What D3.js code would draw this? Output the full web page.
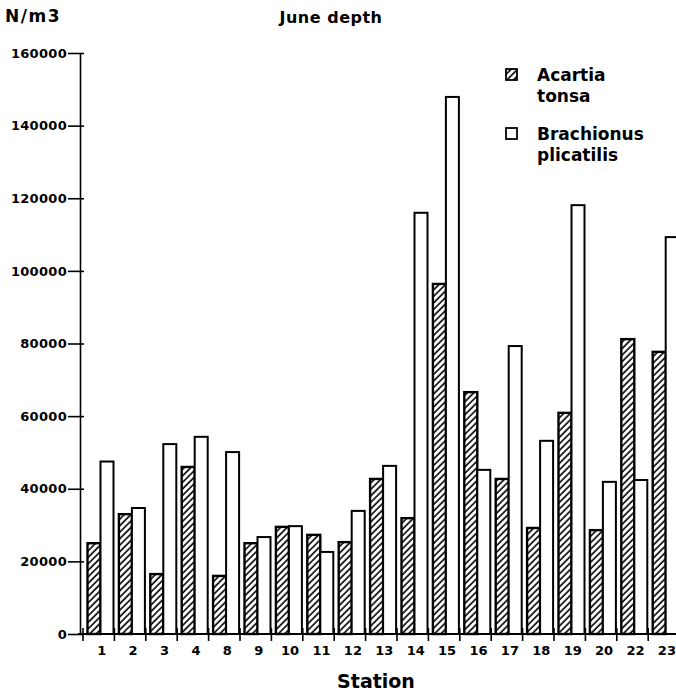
<!DOCTYPE html>
<html><head><meta charset="utf-8">
<script src="https://cdn.jsdelivr.net/npm/d3@7"></script>
<style>body{margin:0;background:#fff}svg{display:block}text{font-family:"DejaVu Sans",sans-serif;font-weight:bold;fill:#000}</style>
</head><body>
<script>
const stations = ["1","2","3","4","8","9","10","11","12","13","14","15","16","17","18","19","20","22","23"];
const acartia = [25000,33000,16500,46000,16000,25000,29500,27300,25300,42700,31900,96400,66600,42700,29200,60900,28600,81200,77700];
const brachionus = [47500,34700,52300,54300,50100,26700,29700,22600,33900,46300,116000,147900,45200,79300,53200,118100,41900,42400,109300];
const yTicks = [0,20000,40000,60000,80000,100000,120000,140000,160000];
const seriesNames = ["Acartia tonsa","Brachionus plicatilis"];

const W=676,H=693;
const svg=d3.select("body").append("svg").attr("width",W).attr("height",H);
const defs=svg.append("defs");
const pat=defs.append("pattern").attr("id","hatch").attr("patternUnits","userSpaceOnUse")
  .attr("width",4.6).attr("height",4.6).attr("patternTransform","rotate(45)");
pat.append("rect").attr("width",4.6).attr("height",4.6).attr("fill","#fff");
pat.append("line").attr("x1",1).attr("y1",0).attr("x2",1).attr("y2",4.6).attr("stroke","#000").attr("stroke-width",1.6);

const y=d3.scaleLinear().domain([0,160000]).range([634,53]);
const x=d3.scaleBand().domain(stations).range([83,83+19*31.4]).paddingInner(0);
const xs=d3.scaleBand().domain(["a","b"]).range([4.5,30.5]);

// bars
const g=svg.append("g");
stations.forEach((s,i)=>{
  const x0=x(s);
  g.append("rect").attr("x",x0+xs("a")).attr("width",xs.bandwidth()).attr("y",y(acartia[i])).attr("height",y(0)-y(acartia[i]))
   .attr("fill","url(#hatch)").attr("stroke","#000").attr("stroke-width",2.4);
  g.append("rect").attr("x",x0+xs("b")).attr("width",xs.bandwidth()).attr("y",y(brachionus[i])).attr("height",y(0)-y(brachionus[i]))
   .attr("fill","#fff").attr("stroke","#000").attr("stroke-width",2);
});

// y axis
const ya=svg.append("g").attr("transform","translate(80,0)")
  .call(d3.axisLeft(y).tickValues(yTicks).tickFormat(d3.format("d")).tickSizeInner(10).tickSizeOuter(0));
ya.select(".domain").attr("stroke","#000").attr("stroke-width",1.6);
ya.selectAll(".tick line").attr("stroke","#000").attr("stroke-width",1.6).attr("x2",4).attr("x1",-12);
ya.selectAll(".tick text").attr("x",-13).attr("font-size",13).attr("letter-spacing",0.3).attr("font-family","DejaVu Sans").attr("font-weight","bold").attr("fill","#000");

// x axis
svg.append("line").attr("x1",78).attr("x2",676).attr("y1",634).attr("y2",634).attr("stroke","#000").attr("stroke-width",2);
const xa=svg.append("g").attr("transform","translate(0,634)")
  .call(d3.axisBottom(x).tickSize(0).tickPadding(12));
xa.select(".domain").remove();
xa.selectAll(".tick text").attr("font-size",13).attr("font-family","DejaVu Sans").attr("font-weight","bold").attr("fill","#000").attr("dx",3);
stations.forEach(s=>{
  svg.append("line").attr("x1",x(s)).attr("x2",x(s)).attr("y1",628).attr("y2",641).attr("stroke","#000").attr("stroke-width",1.6);
});

// titles
svg.append("text").attr("x",5).attr("y",22).attr("font-size",17).attr("letter-spacing",1.5).text("N/m3");
svg.append("text").attr("x",331).attr("y",23).attr("text-anchor","middle").attr("font-size",16).attr("letter-spacing",0.5).text("June depth");
svg.append("text").attr("x",376).attr("y",688).attr("text-anchor","middle").attr("font-size",19).text("Station");

// legend
const leg=svg.append("g");
leg.append("rect").attr("x",506).attr("y",69).attr("width",11).attr("height",11).attr("fill","url(#hatch)").attr("stroke","#000").attr("stroke-width",1.8);
leg.append("rect").attr("x",506).attr("y",128).attr("width",11).attr("height",11).attr("fill","#fff").attr("stroke","#000").attr("stroke-width",1.8);
leg.append("text").attr("x",537).attr("y",81).attr("font-size",17).text("Acartia");
leg.append("text").attr("x",537).attr("y",102).attr("font-size",17).text("tonsa");
leg.append("text").attr("x",537).attr("y",140).attr("font-size",17).text("Brachionus");
leg.append("text").attr("x",537).attr("y",161).attr("font-size",17).text("plicatilis");
</script>
</body></html>
